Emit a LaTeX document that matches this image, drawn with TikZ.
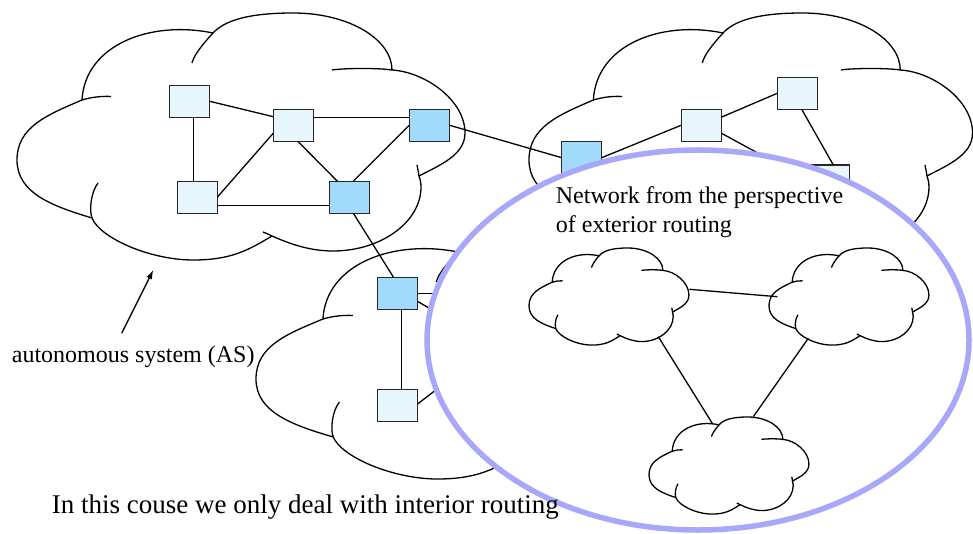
\documentclass[tikz,border=0pt]{standalone}
\usepackage{fontspec}
\setmainfont{Liberation Serif}
\usetikzlibrary{arrows.meta}

\definecolor{routerlight}{RGB}{232,246,254}
\definecolor{routerdark}{RGB}{162,218,252}
\definecolor{scopering}{RGB}{168,168,250}

\tikzset{
  cloudline/.style={line width=1.3pt, black},
  link/.style={line width=1.3pt, black},
  router/.style={draw=black!85, line width=1.3pt, minimum width=40pt,
                 minimum height=32pt, inner sep=0pt, outer sep=0pt},
  lightrouter/.style={router, fill=routerlight},
  darkrouter/.style={router, fill=routerdark},
  label/.style={anchor=base west, inner sep=0pt},
  % six-lobed cloud, 448 x 247 units, origin at its top left corner
  cloudpic/.pic={
    \draw[cloudline, fill=white]
      (65,87) .. controls (30,102) and (0,114) .. (0,147)
      .. controls (0,180) and (35,193) .. (75,205)
      .. controls (83,225) and (133,247) .. (176,247)
      .. controls (213,247) and (230,238) .. (255,223)
      .. controls (273,231) and (293,238) .. (316,238)
      .. controls (364,238) and (404,209) .. (404,174)
      .. controls (404,169) and (403,166) .. (402,163)
      .. controls (423,152) and (448,142) .. (448,120)
      .. controls (448,87) and (408,59) .. (375,57)
      .. controls (375,27) and (333,0) .. (276,0)
      .. controls (233,0) and (208,7) .. (196,20)
      .. controls (133,7) and (68,32) .. (65,87)
      -- cycle;
    % inner ends of the lobes
    \draw[cloudline]
      (65,87) .. controls (75,84) and (85,83) .. (94,83.5)
      (75,205) .. controls (72,197) and (74,179) .. (81,170)
      (255,223) .. controls (252,221.5) and (249,220) .. (246,219)
      (402,163) .. controls (401.5,159) and (400.5,155) .. (400,152)
      (375,57) .. controls (363,55) and (328,55) .. (315,57)
      (196,20) .. controls (185,32) and (177,42) .. (175,50);
  }
}

\begin{document}
\begin{tikzpicture}[x=1pt, y=-1pt]
\useasboundingbox (0,0) rectangle (973,534);
\fill[white] (0,0) rectangle (973,534);

% autonomous systems
\pic at (17,13) {cloudpic};
\pic[xscale=0.99] at (529,13) {cloudpic};
\pic[xscale=1.03] at (256,232) {cloudpic};

% routers
\node[lightrouter] (A) at (189.3,101.2) {};
\node[lightrouter] (B) at (293.3,125.2) {};
\node[darkrouter]  (C) at (429.3,125.2) {};
\node[lightrouter] (D) at (197.3,197.2) {};
\node[darkrouter]  (E) at (349.3,197.2) {};
\node[darkrouter]  (F) at (581.7,157.7) {};
\node[lightrouter] (H) at (701.3,125.2) {};
\node[lightrouter] (I) at (797.3,93.3) {};
\node[lightrouter] (J) at (829.3,181) {};
\node[darkrouter]  (G) at (397.5,293.3) {};
\node[lightrouter] (K) at (397.5,405.2) {};

\coordinate (gOut) at (495,293.3);
\coordinate (gDiag) at (500,350.2);
\coordinate (kDiag) at (500,341);

% links
\draw[link] ([xshift=4pt]A.south) -- ([xshift=-4pt]D.north);
\draw[link] (A.east) -- ([yshift=8.5pt]B.west);
\draw[link] ([yshift=8pt]B.east) -- ([yshift=8pt]C.west);
\draw[link] ([yshift=-8pt]B.west) -- (D.east);
\draw[link] ([xshift=4.4pt]B.south) -- ([xshift=-12pt]E.north);
\draw[link] (C.west) -- ([xshift=4pt]E.north);
\draw[link] ([yshift=-8pt]D.east) -- ([yshift=-8pt]E.west);
\draw[link] ([xshift=4pt]E.south) -- ([xshift=-4pt]G.north);
\draw[link] (C.east) -- (F.west);
\draw[link] (F.east) -- (H.west);
\draw[link] ([yshift=8pt]H.east) -- (I.west);
\draw[link] ([yshift=-8pt]H.east) -- (J.west);
\draw[link] ([xshift=4.4pt]I.south) -- ([xshift=4pt]J.north);
\draw[link] ([xshift=4pt]G.south) -- ([xshift=4pt]K.north);
\draw[link] (G.east) -- (gOut);
\draw[link] ([yshift=-8pt]G.east) -- (gDiag);
\draw[link] ([yshift=1.2pt]K.east) -- (kDiag);

% exterior view
\draw[scopering, line width=5.5pt, fill=white] (698,340) ellipse [x radius=271, y radius=190];

\pic[xscale=0.357, yscale=0.393] at (529,248) {cloudpic};
\pic[xscale=0.357, yscale=0.393] at (769,248) {cloudpic};
\pic[xscale=0.357, yscale=0.393] at (649,417) {cloudpic};

\coordinate (sc1r) at (689.3,289.3);
\coordinate (sc2l) at (777.3,296.7);
\coordinate (sc1b) at (658.3,336.7);
\coordinate (sc3a) at (712.7,424);
\coordinate (sc2b) at (808.3,338.3);
\coordinate (sc3b) at (753.3,416.7);
\draw[link] (sc1r) -- (sc2l);
\draw[link] (sc1b) -- (sc3a);
\draw[link] (sc2b) -- (sc3b);

\node[label, font=\fontsize{24}{28.7}\selectfont] (ext) at (555.7,204)
  {\begin{tabular}[t]{@{}l@{}}Network from the perspective\\of exterior routing\end{tabular}};

% labels
\node[label, font=\fontsize{24}{28}\selectfont] (as) at (11.7,362) {autonomous system (AS)};
\node[label, font=\fontsize{27}{32}\selectfont] (note) at (51.7,513.3) {In this couse we only deal with interior routing};

\coordinate (asTail) at (121.7,333.3);
\coordinate (asTip) at (153.3,270);
\draw[link, -{Latex[length=9pt, width=6pt]}] (asTail) -- (asTip);
\end{tikzpicture}
\end{document}
